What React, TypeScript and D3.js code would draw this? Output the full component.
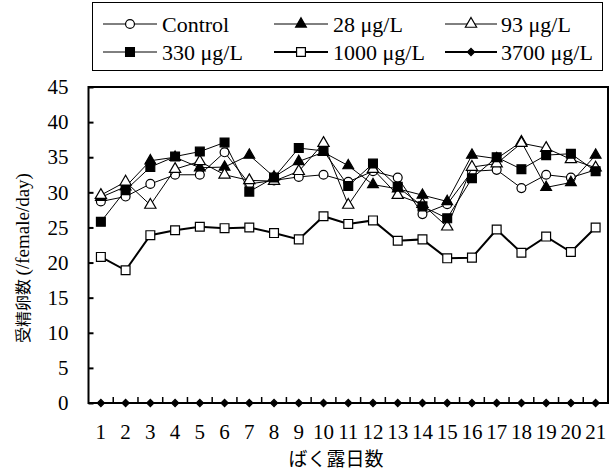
import { useEffect, useRef } from 'react';
import * as d3 from 'd3';

// data
const days = ['1', '2', '3', '4', '5', '6', '7', '8', '9', '10', '11', '12', '13', '14', '15', '16', '17', '18', '19', '20', '21'];
const control = [28.7, 29.4, 31.2, 32.5, 32.5, 35.7, 31.2, 31.7, 32.2, 32.5, 31.5, 33.0, 32.1, 26.9, 28.3, 33.0, 33.2, 30.6, 32.5, 32.1, 33.2];
const c28 = [29.3, 30.8, 34.5, 35.0, 33.5, 33.6, 35.3, 32.2, 34.4, 35.7, 33.8, 31.1, 30.5, 29.6, 28.7, 35.3, 34.8, 37.2, 30.7, 31.4, 35.3];
const c93 = [29.6, 31.5, 28.2, 33.3, 34.4, 32.5, 31.7, 31.6, 33.0, 37.0, 28.2, 33.3, 29.6, 28.3, 25.1, 33.6, 34.1, 37.0, 36.3, 34.7, 33.5];
const c330 = [25.8, 30.3, 33.6, 35.1, 35.8, 37.1, 30.1, 32.1, 36.3, 35.9, 30.9, 34.1, 30.8, 28.0, 26.3, 32.0, 35.0, 33.3, 35.3, 35.5, 33.0];
const c1000 = [20.8, 18.9, 23.9, 24.6, 25.1, 24.9, 25.0, 24.2, 23.3, 26.6, 25.5, 26.0, 23.1, 23.3, 20.6, 20.7, 24.7, 21.4, 23.7, 21.5, 25.0];
const c3700 = [0, 0, 0, 0, 0, 0, 0, 0, 0, 0, 0, 0, 0, 0, 0, 0, 0, 0, 0, 0, 0];
const yTicks = [0, 5, 10, 15, 20, 25, 30, 35, 40, 45];

const seriesNames = ['Control', '28 μg/L', '93 μg/L', '330 μg/L', '1000 μg/L', '3700 μg/L'];

const serif = '"Liberation Serif", "Times New Roman", serif';
const cjk = '"Noto Sans CJK JP", sans-serif';

export default function App() {
    const ref = useRef<SVGSVGElement>(null);

    useEffect(() => {
        const svg = d3.select(ref.current);
        svg.selectAll('*').remove();

        const left = 88.5, right = 608, top = 87, bottom = 403;

        const x = d3.scaleBand().domain(days).range([left, right]).padding(0);
        const y = d3.scaleLinear().domain([0, 45]).range([bottom, top]);

        // marker styles per series
        const styles = [
            { symbol: d3.symbolCircle, size: 62, fill: 'white', width: 1, rotate: 0 },
            { symbol: d3.symbolTriangle, size: 50, fill: 'black', width: 1, rotate: 0 },
            { symbol: d3.symbolTriangle, size: 55, fill: 'white', width: 1, rotate: 0 },
            { symbol: d3.symbolSquare, size: 78, fill: 'black', width: 1, rotate: 0 },
            { symbol: d3.symbolSquare, size: 78, fill: 'white', width: 2, rotate: 0 },
            { symbol: d3.symbolSquare, size: 26, fill: 'black', width: 2, rotate: 45 },
        ];
        const allSeries = [control, c28, c93, c330, c1000, c3700];

        // y axis
        const yAxis = d3.axisLeft(y).tickValues(yTicks).tickSizeInner(-5).tickSizeOuter(0).tickPadding(20);
        const gy = svg.append('g').attr('transform', `translate(${left},0)`).call(yAxis);
        gy.select('.domain').remove();
        gy.selectAll('line').attr('stroke', 'black').attr('stroke-width', 2);
        gy.selectAll('text').attr('font-family', serif).attr('font-size', 21).attr('fill', 'black');

        // x axis labels
        const xAxis = d3.axisBottom(x).tickSize(0).tickPadding(21);
        const gx = svg.append('g').attr('transform', `translate(0,${bottom})`).call(xAxis);
        gx.select('.domain').remove();
        gx.selectAll('text').attr('font-family', serif).attr('font-size', 21).attr('fill', 'black');

        // x ticks between categories, pointing inward
        svg.append('g').selectAll('line')
            .data(days.slice(1))
            .enter().append('line')
            .attr('x1', d => x(d) as number).attr('x2', d => x(d) as number)
            .attr('y1', bottom).attr('y2', bottom - 6)
            .attr('stroke', 'black').attr('stroke-width', 1.5);

        // plot border
        svg.append('rect')
            .attr('x', left).attr('y', top)
            .attr('width', right - left).attr('height', bottom - top)
            .attr('fill', 'none').attr('stroke', 'black').attr('stroke-width', 2);

        // series
        const cx = (d: string) => (x(d) as number) + x.bandwidth() / 2;
        allSeries.forEach((vals, i) => {
            const st = styles[i];
            const line = d3.line<number>().x((v, j) => cx(days[j])).y(v => y(v));
            svg.append('path').datum(vals)
                .attr('d', line)
                .attr('fill', 'none').attr('stroke', 'black').attr('stroke-width', st.width);
            svg.append('g').selectAll('path')
                .data(vals)
                .enter().append('path')
                .attr('d', d3.symbol().type(st.symbol).size(st.size)())
                .attr('transform', (v, j) => `translate(${cx(days[j])},${y(v)}) rotate(${st.rotate})`)
                .attr('fill', st.fill).attr('stroke', 'black').attr('stroke-width', 1.2);
        });

        // legend
        svg.append('rect')
            .attr('x', 92.5).attr('y', 2.5).attr('width', 510).attr('height', 68)
            .attr('fill', 'white').attr('stroke', 'black').attr('stroke-width', 1);
        const cols = [[103, 157, 162], [274, 328, 333], [445, 497, 501]];
        const rows = [24, 52];
        seriesNames.forEach((name, i) => {
            const st = styles[i];
            const [x1, x2, tx] = cols[i % 3];
            const ry = rows[Math.floor(i / 3)];
            svg.append('line')
                .attr('x1', x1).attr('x2', x2).attr('y1', ry).attr('y2', ry)
                .attr('stroke', 'black').attr('stroke-width', st.width);
            svg.append('path')
                .attr('d', d3.symbol().type(st.symbol).size(st.size)())
                .attr('transform', `translate(${(x1 + x2) / 2},${ry}) rotate(${st.rotate})`)
                .attr('fill', st.fill).attr('stroke', 'black').attr('stroke-width', 1.2);
            svg.append('text')
                .attr('x', tx).attr('y', ry).attr('dy', '0.35em')
                .attr('font-family', serif).attr('font-size', 22)
                .text(name);
        });

        // axis titles
        svg.append('text')
            .attr('x', 336).attr('y', 459).attr('dy', '0.35em')
            .attr('text-anchor', 'middle')
            .attr('font-family', cjk).attr('font-size', 19)
            .text('ばく露日数');

        const yt = svg.append('text')
            .attr('transform', 'translate(23,343) rotate(-90)')
            .attr('dy', '0.35em')
            .attr('text-anchor', 'start');
        yt.append('tspan').attr('font-family', cjk).attr('font-size', 16).text('受精卵数 ');
        yt.append('tspan').attr('font-family', serif).attr('font-size', 19).text('(/female/day)');
    }, []);

    return (
        <svg ref={ref} width={613} height={474}
            style={{ position: 'absolute', left: 0, top: 0, background: 'white' }} />
    );
}
